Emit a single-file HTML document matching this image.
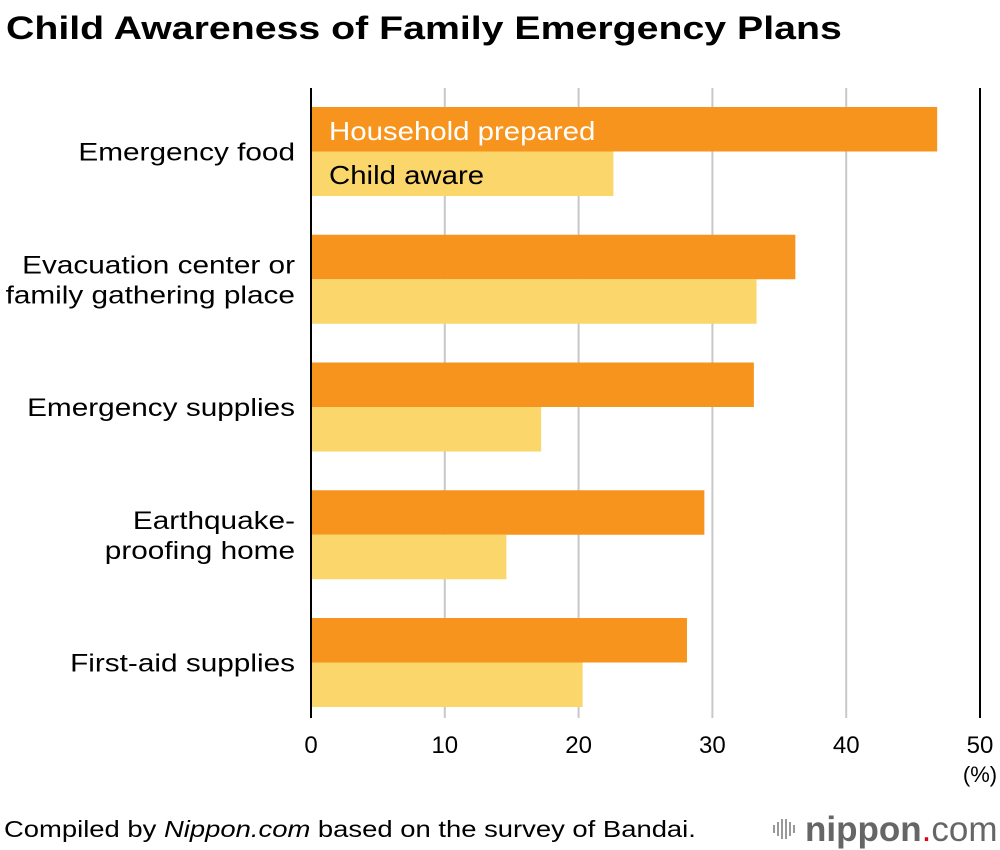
<!DOCTYPE html>
<html><head><meta charset="utf-8"><style>
body{margin:0;background:#fff;font-family:"Liberation Sans",Arial,sans-serif;}
#wrap{position:relative;width:1000px;height:850px;overflow:hidden;}
</style></head><body>
<div id="wrap">
<svg id="chart" width="1000" height="850"></svg>
</div>
<script>
const categories=[["Emergency food"],["Evacuation center or","family gathering place"],["Emergency supplies"],["Earthquake-","proofing home"],["First-aid supplies"]];
const householdPrepared=[46.8,36.2,33.1,29.4,28.1];
const childAware=[22.6,33.3,17.2,14.6,20.3];
const tickValues=[0,10,20,30,40,50];
const tickLabels=["0","10","20","30","40","50"];
const seriesNames=["Household prepared","Child aware"];

const NS="http://www.w3.org/2000/svg";
const svg=document.getElementById('chart');
const x0=311,x1=980,xmax=50;
const xs=v=>x0+(x1-x0)*v/xmax;
const groupTop=i=>107+i*127.75;
const barH=44.5;
const stretched=[];
function mk(tag,attrs,parent){const e=document.createElementNS(NS,tag);for(const k in attrs)e.setAttribute(k,attrs[k]);(parent||svg).appendChild(e);return e;}

let t=mk('text',{x:6,y:39,'font-size':'32','font-weight':'bold',fill:'#000'});


t.textContent="Child Awareness of Family Emergency Plans";
stretched.push([t,1.227]);

tickValues.forEach((v,i)=>{
  if(v>0&&v<50){
    const g=mk('line',{x1:xs(v),x2:xs(v),y1:88,y2:718,stroke:'#c8c8c8','stroke-width':2});
    
    
  }
  const l=mk('text',{x:xs(v),y:753,'font-size':'24','text-anchor':'middle',fill:'#000'});
  
  
  l.textContent=tickLabels[i];
});
const rl=mk('line',{x1:xs(50),x2:xs(50),y1:88,y2:718,stroke:'#000','stroke-width':2});



categories.forEach((c,i)=>{
  const y=groupTop(i);
  const b1=mk('rect',{x:x0,y:y,width:xs(householdPrepared[i])-x0,height:barH,fill:'#f7941d'});
  
  
  const b2=mk('rect',{x:x0,y:y+barH,width:xs(childAware[i])-x0,height:barH,fill:'#fad66b'});
  
  
  const cy=y+barH;
  c.forEach((line,j)=>{
    const ty=cy+9+(j-(c.length-1)/2)*30;
    const lt=mk('text',{x:295,y:ty,'font-size':'25','text-anchor':'end',fill:'#000'});
    
    
    lt.textContent=line;
    stretched.push([lt,1.19]);
  });
});

const ax=mk('line',{x1:x0,x2:x0,y1:88,y2:718,stroke:'#000','stroke-width':2});



let lg1=mk('text',{x:329,y:140,'font-size':'26',fill:'#fff'});


lg1.textContent=seriesNames[0];
stretched.push([lg1,1.13]);
let lg2=mk('text',{x:329,y:184,'font-size':'26',fill:'#000'});


lg2.textContent=seriesNames[1];
stretched.push([lg2,1.13]);

let u=mk('text',{x:980,y:782,'font-size':'22','text-anchor':'middle',fill:'#000'});


u.textContent="(%)";

let src=mk('text',{x:4,y:837,'font-size':'23',fill:'#000'});


src.innerHTML='Compiled by <tspan font-style="italic">Nippon.com</tspan> based on the survey of Bandai.';
stretched.push([src,1.192]);

const logo=mk('g',{});


[[773,8],[777,14],[781,20],[785,20],[789,14],[793,8]].forEach(p=>{mk('rect',{x:p[0],y:829-p[1]/2,width:2,height:p[1],fill:'#999'},logo);});
let lt=mk('text',{x:805,y:841,'font-size':'35','fill':'#666'},logo);
lt.innerHTML='<tspan font-weight="bold">nippon</tspan><tspan fill="#e60012">.</tspan><tspan>com</tspan>';
stretched.push([lt,1.0]);

stretched.forEach(([el,f])=>{
  const w=el.getComputedTextLength();
  el.setAttribute('textLength',(w*f).toFixed(1));
  el.setAttribute('lengthAdjust','spacingAndGlyphs');
});
</script>
</body></html>
